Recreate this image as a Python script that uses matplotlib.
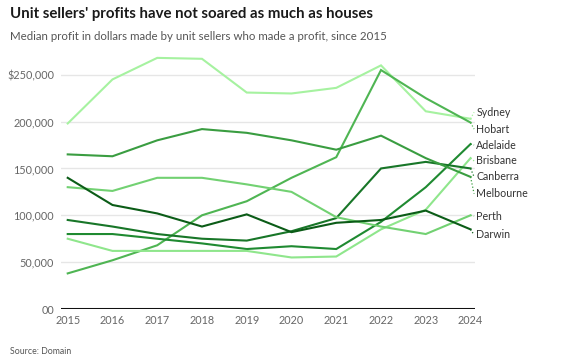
import matplotlib.pyplot as plt

years = list(range(2015, 2025))

sydney    = [198000, 245000, 268000, 267000, 231000, 230000, 236000, 260000, 211000, 203000]
hobart    = [38000, 52000, 68000, 100000, 115000, 140000, 162000, 255000, 225000, 199000]
adelaide  = [80000, 80000, 75000, 70000, 64000, 67000, 64000, 93000, 130000, 176000]
brisbane  = [75000, 62000, 62000, 62000, 62000, 55000, 56000, 85000, 106000, 161000]
canberra  = [95000, 88000, 80000, 75000, 73000, 83000, 97000, 150000, 157000, 150000]
melbourne = [165000, 163000, 180000, 192000, 188000, 180000, 170000, 185000, 161000, 141000]
perth     = [130000, 126000, 140000, 140000, 133000, 125000, 98000, 88000, 80000, 100000]
darwin    = [140000, 111000, 102000, 88000, 101000, 82000, 92000, 95000, 105000, 85000]

names = ['Sydney', 'Hobart', 'Adelaide', 'Brisbane', 'Canberra', 'Melbourne', 'Perth', 'Darwin']
series = [sydney, hobart, adelaide, brisbane, canberra, melbourne, perth, darwin]
colors = ['#a6f2a0', '#4fb553', '#1f8a31', '#8fe68c', '#187628', '#3a9d41', '#72d172', '#0b5c17']
# where the end labels sit (label layout, in value units)
label_y = [210000, 192000, 175000, 158000, 141000, 123000, 99000, 79000]

yticks = [0, 50000, 100000, 150000, 200000, 250000]
ytick_labels = ['00', '50,000', '100,000', '150,000', '200,000', '$250,000']

plt.rcParams['font.family'] = ['Lato', 'DejaVu Sans']

fig = plt.figure(figsize=(5.64, 3.59), dpi=100)
ax = fig.add_axes([61 / 564, 50 / 359, 414 / 564, 253 / 359])

for vals, c in zip(series, colors):
    ax.plot(years, vals, color=c, lw=1.5, solid_joinstyle='miter', zorder=3)

for name, vals, c, ly in zip(names, series, colors, label_y):
    ax.plot([2024, 2024.08], [vals[-1], ly], color=c, lw=0.9, ls=':', clip_on=False, zorder=3)
    ax.text(2024.13, ly, name, color='#333333', fontsize=7.7, va='center', ha='left')

for t in yticks[1:]:
    ax.axhline(t, color='#e6e6e6', lw=1, zorder=1)
ax.axhline(0, color='#111111', lw=2.2, zorder=4)

ax.set_xlim(2014.85, 2024.1)
ax.set_ylim(0, 270000)
ax.set_yticks(yticks)
ax.set_yticklabels(ytick_labels)
ax.set_xticks(years)
ax.set_xticklabels([str(y) for y in years])
ax.tick_params(axis='y', length=0, pad=5, labelsize=7.8, labelcolor='#666666')
ax.tick_params(axis='x', length=0, pad=4, labelsize=7.8, labelcolor='#666666')
for s in ax.spines.values():
    s.set_visible(False)

fig.text(10 / 564, 1 - 14 / 359, "Unit sellers' profits have not soared as much as houses",
         fontsize=10.8, fontweight='bold', color='#1a1a1a', va='center')
fig.text(10 / 564, 1 - 36 / 359, "Median profit in dollars made by unit sellers who made a profit, since 2015",
         fontsize=8.3, color='#555555', va='center')
fig.text(10 / 564, 1 - 351 / 359, "Source: Domain", fontsize=6.3, color='#555555', va='center')

fig.savefig('out.png', dpi=100)
